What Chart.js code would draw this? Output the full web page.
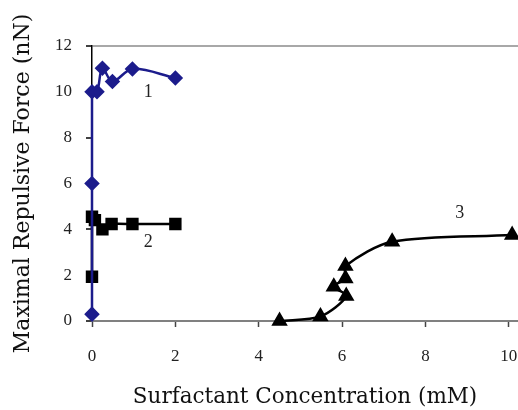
<!DOCTYPE html>
<html>
<head>
<meta charset="utf-8">
<script src="https://cdn.jsdelivr.net/npm/chart.js@4.4.1/dist/chart.umd.min.js"></script>
<style>
  html, body { margin: 0; padding: 0; background: #fff; }
  #wrap { width: 518px; height: 410px; position: relative; }
</style>
</head>
<body>
<div id="wrap"><canvas id="c" width="518" height="410"></canvas></div>
<script>
// ---- data ----
const s1X = [0, 0, 0, 0.12, 0.25, 0.49, 0.97, 2.0];
const s1Y = [0.3, 6, 10, 10, 11.03, 10.45, 11.0, 10.6];
const s2X = [0, 0, 0.07, 0.25, 0.47, 0.97, 2.0];
const s2Y = [1.93, 4.55, 4.4, 4.0, 4.23, 4.23, 4.23];
const s3X = [4.5, 5.48, 6.1, 5.8, 6.08, 6.08, 7.2, 10.08];
const s3Y = [0, 0.2, 1.09, 1.5, 1.86, 2.4, 3.46, 3.75];
const curveLabels = ['1', '2', '3'];
const curveLabelX = [1.35, 1.35, 8.82];
const curveLabelY = [10.0, 3.45, 4.7];
const xTitle = 'Surfactant Concentration (mM)';
const yTitle = 'Maximal Repulsive Force (nN)';

const toPts = (xs, ys) => xs.map((x, i) => ({ x: x, y: ys[i] }));

const curveLabelPlugin = {
  id: 'curveLabels',
  afterDatasetsDraw(chart) {
    const { ctx, scales } = chart;
    ctx.save();
    ctx.font = '18px "Liberation Serif"';
    ctx.fillStyle = '#222';
    ctx.textAlign = 'center';
    ctx.textBaseline = 'middle';
    curveLabels.forEach((t, i) => {
      ctx.fillText(t, scales.x.getPixelForValue(curveLabelX[i]), scales.y.getPixelForValue(curveLabelY[i]));
    });
    ctx.restore();
  }
};

const tickFont = { family: 'Liberation Serif', size: 17 };
const titleFontFamily = 'DejaVu Serif';

new Chart(document.getElementById('c'), {
  type: 'scatter',
  data: {
    datasets: [
      {
        data: toPts(s1X, s1Y), showLine: true, tension: 0.35,
        borderColor: '#1c1c8c', backgroundColor: '#1c1c8c', borderWidth: 2.5,
        pointStyle: 'rectRot', pointRadius: 6, pointHoverRadius: 6, clip: false
      },
      {
        data: toPts(s2X, s2Y), showLine: true, tension: 0.2,
        borderColor: '#000', backgroundColor: '#000', borderWidth: 2.5,
        pointStyle: 'rect', pointRadius: 7, pointHoverRadius: 7, clip: false
      },
      {
        data: toPts(s3X, s3Y), showLine: true, tension: 0.3,
        borderColor: '#000', backgroundColor: '#000', borderWidth: 2.5,
        pointStyle: 'triangle', pointRadius: 7, pointHoverRadius: 7, clip: false
      }
    ]
  },
  options: {
    responsive: false,
    animation: false,
    devicePixelRatio: 1,
    layout: { autoPadding: false, padding: { top: 46, right: 0, bottom: 0, left: 0 } },
    plugins: { legend: { display: false }, tooltip: { enabled: false } },
    scales: {
      x: {
        type: 'linear', min: 0, max: 10.22,
        afterFit(s) { s.height = 89; s.paddingLeft = 0; s.paddingRight = 0; },
        ticks: { stepSize: 2, includeBounds: false, font: tickFont, color: '#222', padding: 19, maxRotation: 0 },
        grid: { drawOnChartArea: false, tickLength: 6, tickColor: '#444', tickWidth: 1.5 },
        border: { color: '#808080', width: 2 },
        title: { display: true, text: xTitle, font: { family: titleFontFamily, size: 21.5 }, color: '#111', padding: { top: 0, bottom: 0 } }
      },
      y: {
        type: 'linear', min: 0, max: 12,
        afterFit(s) { s.width = 92; s.paddingTop = 0; s.paddingBottom = 0; },
        ticks: { stepSize: 2, font: tickFont, color: '#222', padding: 14 },
        grid: {
          drawOnChartArea: true, tickLength: 6, tickColor: '#000', tickWidth: 1.5,
          color: (c) => (c.tick && c.tick.value === 12) ? '#a8a8a8' : 'rgba(0,0,0,0)',
          lineWidth: (c) => (c.tick && c.tick.value === 12) ? 2 : 0
        },
        border: { color: '#000', width: 1.5 },
        title: { display: true, text: yTitle, font: { family: titleFontFamily, size: 22 }, color: '#111', padding: { top: 10, bottom: 0 } }
      }
    }
  },
  plugins: [curveLabelPlugin]
});
</script>
</body>
</html>
